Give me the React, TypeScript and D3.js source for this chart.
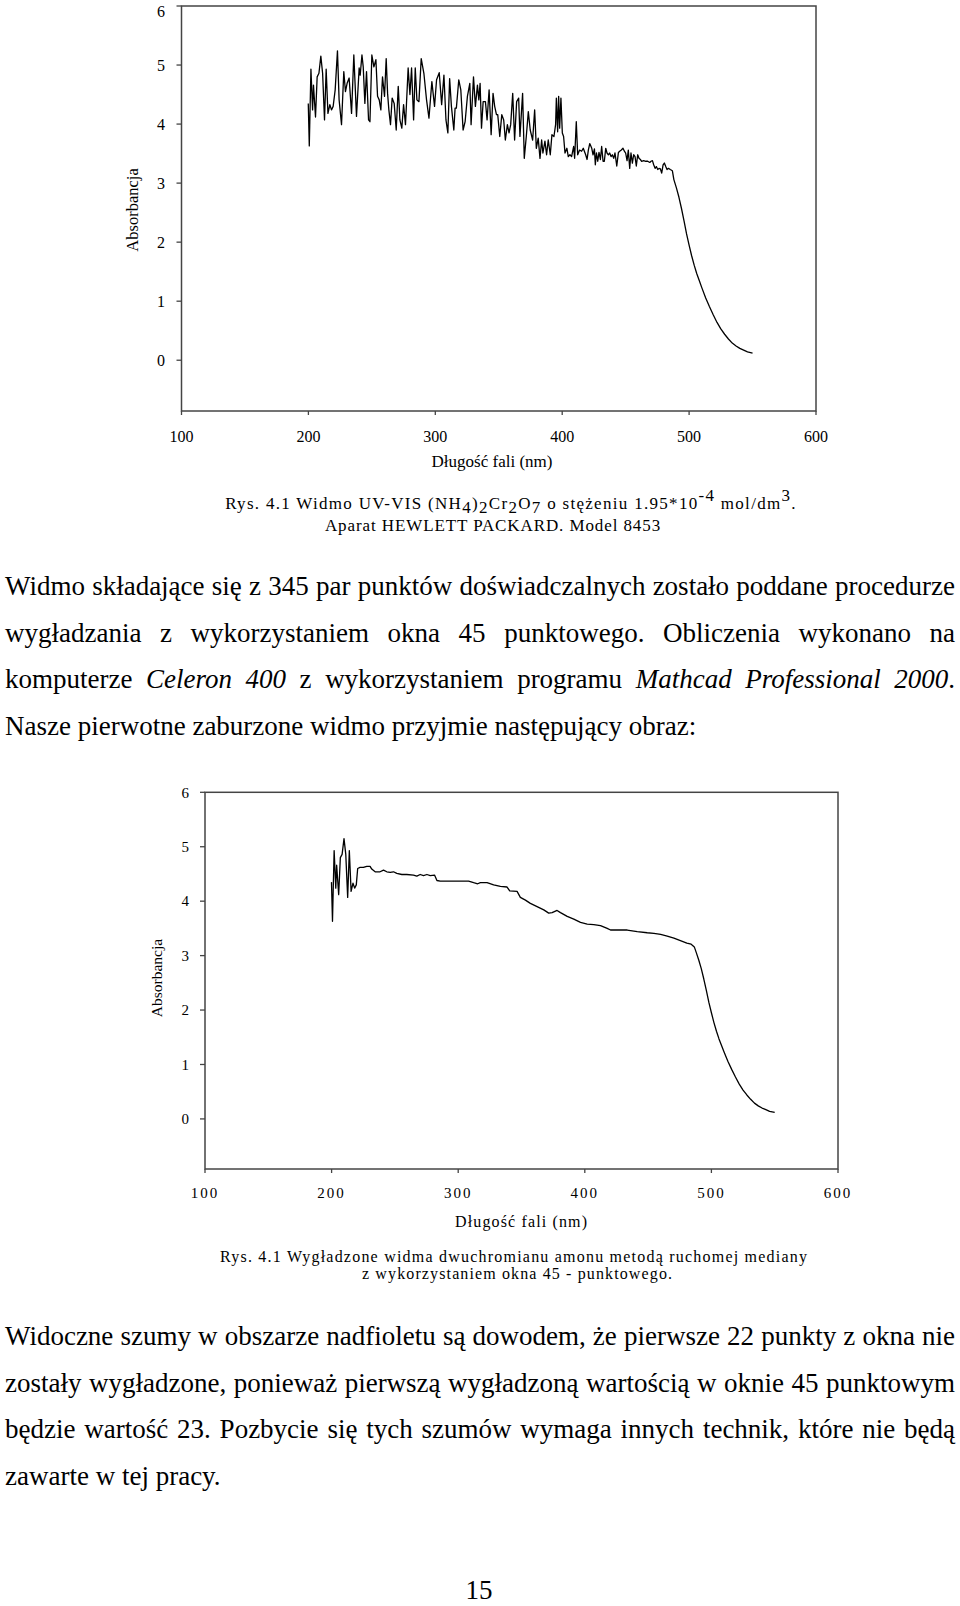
import React, { useMemo } from "react";
import * as d3 from "d3";

const FONT = "'Liberation Serif', 'Times New Roman', Times, serif";

const xTicks = [100, 200, 300, 400, 500, 600];
const yTicks = [0, 1, 2, 3, 4, 5, 6];

// raw (noisy) spectrum, [wavelength nm, absorbance]
const rawSpectrum: [number, number][] = [
  [199.9, 4.35], [200.7, 3.63], [202.0, 4.93], [203.3, 4.24], [204.0, 4.66], [205.6, 4.12],
  [206.9, 4.8], [208.3, 4.86], [209.8, 5.15], [211.2, 4.86], [212.7, 4.07], [214.0, 4.93],
  [215.4, 4.18], [216.9, 4.33], [218.2, 4.24], [219.5, 4.3], [221.1, 4.58], [222.9, 5.24],
  [224.2, 4.41], [226.1, 3.99], [227.9, 4.89], [229.2, 4.55], [230.5, 4.69], [232.1, 4.78],
  [234.0, 4.18], [235.8, 5.17], [237.9, 4.13], [240.0, 4.95], [240.8, 4.83], [242.2, 5.17],
  [243.2, 4.97], [244.5, 4.35], [245.8, 4.89], [247.4, 4.07], [248.5, 4.04], [250.0, 5.17],
  [251.6, 4.97], [253.2, 5.09], [254.5, 4.47], [255.8, 4.41], [257.1, 4.24], [258.4, 4.8],
  [260.0, 4.47], [261.3, 5.11], [262.4, 4.52], [263.4, 4.24], [264.7, 3.99], [266.0, 4.44],
  [267.6, 4.35], [269.2, 3.9], [270.8, 4.64], [272.1, 4.07], [273.6, 3.93], [275.0, 4.33],
  [276.5, 3.99], [277.3, 4.35], [278.6, 4.95], [280.0, 4.5], [281.3, 4.95], [282.9, 4.07],
  [284.2, 4.95], [285.5, 4.41], [287.1, 4.38], [288.9, 5.11], [291.0, 4.86], [293.1, 4.41],
  [295.0, 4.1], [297.3, 4.72], [299.4, 4.3], [301.0, 4.75], [303.1, 4.87], [305.0, 4.33],
  [306.8, 4.83], [308.4, 4.07], [309.9, 3.85], [311.3, 4.77], [312.7, 4.3], [314.6, 3.9],
  [315.6, 4.27], [316.6, 4.27], [318.5, 4.75], [320.1, 4.58], [321.9, 3.9], [323.5, 4.04],
  [325.3, 4.47], [327.2, 4.69], [328.2, 3.99], [330.1, 4.8], [331.6, 4.3], [333.2, 4.66],
  [334.3, 4.41], [335.3, 4.69], [336.4, 3.93], [337.7, 4.38], [339.5, 4.38], [340.8, 4.07],
  [342.4, 4.58], [344.0, 3.82], [345.5, 4.52], [346.8, 4.3], [348.2, 4.16], [349.2, 4.16],
  [350.8, 3.79], [352.4, 4.16], [353.9, 4.07], [355.2, 3.73], [356.8, 3.99], [358.1, 3.85],
  [359.4, 3.99], [361.0, 4.52], [362.5, 3.73], [364.1, 4.38], [365.7, 4.44], [366.7, 3.79],
  [368.8, 4.52], [370.1, 3.42], [371.7, 3.79], [373.3, 4.21], [374.8, 3.9], [376.7, 3.73],
  [378.3, 4.24], [379.6, 3.59], [381.1, 3.76], [382.5, 3.42], [383.8, 3.73], [384.8, 3.51],
  [386.4, 3.71], [387.7, 3.48], [389.0, 3.73], [390.6, 3.48], [391.9, 3.82], [393.5, 3.79],
  [394.8, 3.99], [395.4, 4.44], [396.4, 3.87], [397.2, 4.47], [398.0, 3.93], [399.0, 4.44],
  [400.1, 3.85], [401.1, 3.79], [402.2, 3.51], [403.7, 3.59], [404.8, 3.45], [406.1, 3.48],
  [407.4, 3.45], [409.0, 3.62], [409.8, 3.42], [411.1, 4.04], [412.2, 3.48], [413.7, 3.56],
  [415.3, 3.54], [416.6, 3.59], [418.5, 3.48], [419.6, 3.4], [420.6, 3.56], [421.7, 3.67],
  [423.3, 3.59], [424.3, 3.48], [425.4, 3.58], [426.1, 3.31], [427.0, 3.51], [428.0, 3.37],
  [429.0, 3.52], [430.1, 3.4], [431.1, 3.62], [432.2, 3.37], [433.2, 3.37], [434.3, 3.59],
  [435.3, 3.51], [436.4, 3.48], [437.4, 3.51], [438.5, 3.45], [439.5, 3.48], [440.6, 3.42],
  [441.6, 3.51], [443.0, 3.29], [444.3, 3.52], [445.3, 3.54], [446.6, 3.56], [447.9, 3.59],
  [449.0, 3.54], [450.0, 3.51], [451.1, 3.38], [452.1, 3.56], [453.2, 3.25], [454.2, 3.51],
  [455.3, 3.34], [456.3, 3.48], [457.4, 3.45], [458.4, 3.29], [459.5, 3.48], [460.5, 3.42],
  [461.6, 3.4], [462.6, 3.37], [464.2, 3.38], [465.8, 3.37], [467.4, 3.37], [469.0, 3.35],
  [470.0, 3.37], [471.1, 3.38], [472.1, 3.31], [473.2, 3.25], [474.2, 3.28], [475.3, 3.23],
  [476.3, 3.25], [477.4, 3.24], [478.4, 3.17], [479.5, 3.31], [480.5, 3.34], [481.6, 3.28],
  [482.6, 3.23], [483.7, 3.25], [485.2, 3.23], [486.8, 3.21],
];

// number of leading raw points left unsmoothed by the moving median
const unsmoothedCount = 16;

// smoothed (moving median) part of the spectrum
const smoothedPlateau: [number, number][] = [
  [220.6, 4.6], [222.5, 4.62], [225.1, 4.62], [227.8, 4.64], [230.4, 4.64], [231.7, 4.59],
  [234.4, 4.54], [238.3, 4.54], [241.0, 4.57], [243.6, 4.54], [246.3, 4.53], [248.9, 4.54],
  [251.5, 4.51], [255.5, 4.49], [259.4, 4.49], [264.7, 4.48], [267.3, 4.46], [270.0, 4.49],
  [272.6, 4.47], [275.3, 4.49], [277.9, 4.47], [281.3, 4.48], [283.2, 4.38], [285.8, 4.37],
  [296.4, 4.37], [308.2, 4.37], [312.2, 4.34], [315.4, 4.32], [317.5, 4.34], [322.8, 4.34],
  [328.0, 4.3], [333.3, 4.27], [338.6, 4.26], [340.7, 4.19], [346.5, 4.18], [349.1, 4.07],
  [353.1, 4.02], [357.0, 3.96], [362.3, 3.9], [367.6, 3.84], [371.5, 3.78], [374.2, 3.79],
  [378.1, 3.83], [380.8, 3.79], [386.1, 3.72], [391.3, 3.67], [396.6, 3.61], [401.9, 3.58],
  [407.1, 3.57], [412.4, 3.55], [417.7, 3.5], [420.3, 3.47], [428.2, 3.47], [433.5, 3.47],
  [441.4, 3.44], [449.3, 3.42], [454.6, 3.41], [459.9, 3.39], [465.1, 3.36], [470.4, 3.32],
  [475.0, 3.28], [480.6, 3.23], [484.0, 3.21], [486.5, 3.16],
];

// visible-region fall-off, common to both spectra
const tailSpectrum: [number, number][] = [
  [488, 3.06], [490, 2.92], [492, 2.76], [494, 2.57], [496, 2.36], [498, 2.14], [500, 1.95],
  [502, 1.77], [504, 1.61], [506, 1.47], [508, 1.35], [510, 1.23], [513, 1.06], [516, 0.91],
  [519, 0.77], [522, 0.64], [525, 0.53], [528, 0.44], [531, 0.36], [534, 0.29], [537, 0.24],
  [540, 0.2], [543, 0.17], [546, 0.14], [550, 0.12],
];

const para1 = [
  "Widmo składające się z 345 par punktów doświadczalnych zostało poddane procedurze",
  "wygładzania z wykorzystaniem okna 45 punktowego. Obliczenia wykonano na",
  "komputerze *Celeron 400* z wykorzystaniem programu *Mathcad Professional 2000*.",
  "Nasze pierwotne zaburzone widmo przyjmie następujący obraz:",
];
const para2 = [
  "Widoczne szumy w obszarze nadfioletu są dowodem, że pierwsze 22 punkty z okna nie",
  "zostały wygładzone, ponieważ pierwszą wygładzoną wartością w oknie 45 punktowym",
  "będzie wartość 23. Pozbycie się tych szumów wymaga innych technik, które nie będą",
  "zawarte w tej pracy.",
];

type Seg = { t: string; it: boolean };

function parseLine(s: string): Seg[][] {
  let it = false;
  return s.split(" ").map((w) => {
    const segs: Seg[] = [];
    let cur = "";
    for (const ch of w) {
      if (ch === "*") {
        if (cur) segs.push({ t: cur, it });
        cur = "";
        it = !it;
      } else cur += ch;
    }
    if (cur) segs.push({ t: cur, it });
    return segs;
  });
}

const PFS = 27;

function Paragraph({ lines, y0, dy }: { lines: string[]; y0: number; dy: number }) {
  const laid = useMemo(() => {
    const cv = document.createElement("canvas");
    const ctx = cv.getContext("2d")!;
    const meas = (t: string, it: boolean) => {
      ctx.font = `${it ? "italic " : ""}${PFS}px ${FONT}`;
      return ctx.measureText(t).width;
    };
    const x0 = 5, x1 = 955;
    return lines.map((ln, li) => {
      const words = parseLine(ln);
      const ws = words.map((w) => w.reduce((a, s) => a + meas(s.t, s.it), 0));
      const sum = ws.reduce((a, b) => a + b, 0);
      const justify = li < lines.length - 1;
      const gap = justify ? (x1 - x0 - sum) / (words.length - 1) : meas(" ", false);
      let x = x0;
      return words.map((w, i) => {
        const r = { x, segs: w };
        x += ws[i] + gap;
        return r;
      });
    });
  }, [lines]);
  return (
    <g fontFamily={FONT} fontSize={PFS} fill="#000">
      {laid.map((ws, li) =>
        ws.map((w, wi) => (
          <text key={`${li}-${wi}`} x={w.x} y={y0 + li * dy}>
            {w.segs.map((s, si) => (
              <tspan key={si} fontStyle={s.it ? "italic" : "normal"}>
                {s.t}
              </tspan>
            ))}
          </text>
        ))
      )}
    </g>
  );
}

type Frame = { x0: number; x1: number; yTop: number; yBot: number; yMin: number };

function Chart({
  frame,
  data,
  tickFS,
  yLabelX,
  xLabelY,
  xLetter,
  yTitle,
  xTitle,
}: {
  frame: Frame;
  data: [number, number][];
  tickFS: number;
  yLabelX: number;
  xLabelY: number;
  xLetter: number;
  yTitle: { x: number; y: number; fs: number };
  xTitle: { x: number; y: number; fs: number; len?: number };
}) {
  const x = d3.scaleLinear().domain([100, 600]).range([frame.x0, frame.x1]);
  const y = d3.scaleLinear().domain([frame.yMin, 6]).range([frame.yBot, frame.yTop]);
  const line = d3
    .line<[number, number]>()
    .x((d) => x(d[0]))
    .y((d) => y(d[1]));
  return (
    <g fontFamily={FONT}>
      <rect
        x={frame.x0}
        y={frame.yTop}
        width={frame.x1 - frame.x0}
        height={frame.yBot - frame.yTop}
        fill="none"
        stroke="#444"
        strokeWidth={1.5}
      />
      {yTicks.map((t) => (
        <g key={`y${t}`}>
          <line x1={frame.x0 - 5} x2={frame.x0} y1={y(t)} y2={y(t)} stroke="#444" strokeWidth={1.3} />
          <text x={yLabelX} y={Math.max(y(t), 11)} dy="0.35em" textAnchor="end" fontSize={tickFS}>
            {t}
          </text>
        </g>
      ))}
      {xTicks.map((t) => (
        <g key={`x${t}`}>
          <line x1={x(t)} x2={x(t)} y1={frame.yBot} y2={frame.yBot + 4} stroke="#444" strokeWidth={1.3} />
          <text x={x(t)} y={xLabelY} textAnchor="middle" fontSize={tickFS} letterSpacing={xLetter}>
            {t}
          </text>
        </g>
      ))}
      <text
        transform={`translate(${yTitle.x},${yTitle.y}) rotate(-90)`}
        textAnchor="middle"
        dy="0.35em"
        fontSize={yTitle.fs}
      >
        Absorbancja
      </text>
      <text
        x={xTitle.x}
        y={xTitle.y}
        textAnchor="middle"
        fontSize={xTitle.fs}
        {...(xTitle.len ? { textLength: xTitle.len, lengthAdjust: "spacing" } : {})}
      >
        Długość fali (nm)
      </text>
      <path d={line(data) || ""} fill="none" stroke="#000" strokeWidth={1.3} strokeLinejoin="round" />
    </g>
  );
}

export default function App() {
  const rawData = [...rawSpectrum, ...tailSpectrum];
  const smoothData = [...rawSpectrum.slice(0, unsmoothedCount), ...smoothedPlateau, ...tailSpectrum];
  const topFrame: Frame = { x0: 181.5, x1: 816, yTop: 6, yBot: 411, yMin: -0.86 };
  const botFrame: Frame = { x0: 205, x1: 838, yTop: 792.3, yBot: 1169, yMin: -0.92 };
  return (
    <div style={{ position: "absolute", left: 0, top: 0, width: 960, height: 1606, background: "#fff" }}>
      <svg width={960} height={1606} viewBox="0 0 960 1606" style={{ display: "block" }}>
        <rect x={0} y={0} width={960} height={1606} fill="#fff" />
        <Chart
          frame={topFrame}
          data={rawData}
          tickFS={16}
          yLabelX={165}
          xLabelY={442}
          xLetter={0}
          yTitle={{ x: 132, y: 210, fs: 16.5 }}
          xTitle={{ x: 492, y: 467, fs: 17 }}
        />
        <g fontFamily={FONT} fontSize={17} textAnchor="middle">
          <text x={511} y={509} letterSpacing={1.3}>
            Rys. 4.1 Widmo UV-VIS (NH<tspan dy={4}>4</tspan>
            <tspan dy={-4}>)</tspan>
            <tspan dy={4}>2</tspan>
            <tspan dy={-4}>Cr</tspan>
            <tspan dy={4}>2</tspan>
            <tspan dy={-4}>O</tspan>
            <tspan dy={4}>7</tspan>
            <tspan dy={-4}> o stężeniu 1.95*10</tspan>
            <tspan dy={-8}>-4</tspan>
            <tspan dy={8}> mol/dm</tspan>
            <tspan dy={-8}>3</tspan>
            <tspan dy={8}>.</tspan>
          </text>
          <text x={493} y={531} letterSpacing={0.9}>
            Aparat HEWLETT PACKARD. Model 8453
          </text>
        </g>

        <Paragraph lines={para1} y0={595} dy={46.5} />

        <Chart
          frame={botFrame}
          data={smoothData}
          tickFS={15}
          yLabelX={189}
          xLabelY={1198}
          xLetter={2}
          yTitle={{ x: 157, y: 978, fs: 15.5 }}
          xTitle={{ x: 521, y: 1227, fs: 16, len: 132 }}
        />
        <g fontFamily={FONT} fontSize={16} textAnchor="middle">
          <text x={513.5} y={1262} textLength={587} lengthAdjust="spacing">
            Rys. 4.1 Wygładzone widma dwuchromianu amonu metodą ruchomej mediany
          </text>
          <text x={517} y={1279} textLength={310} lengthAdjust="spacing">
            z wykorzystaniem okna 45 - punktowego.
          </text>
        </g>

        <Paragraph lines={para2} y0={1345} dy={46.5} />

        <text x={479} y={1599} textAnchor="middle" fontFamily={FONT} fontSize={PFS}>
          15
        </text>
      </svg>
    </div>
  );
}
